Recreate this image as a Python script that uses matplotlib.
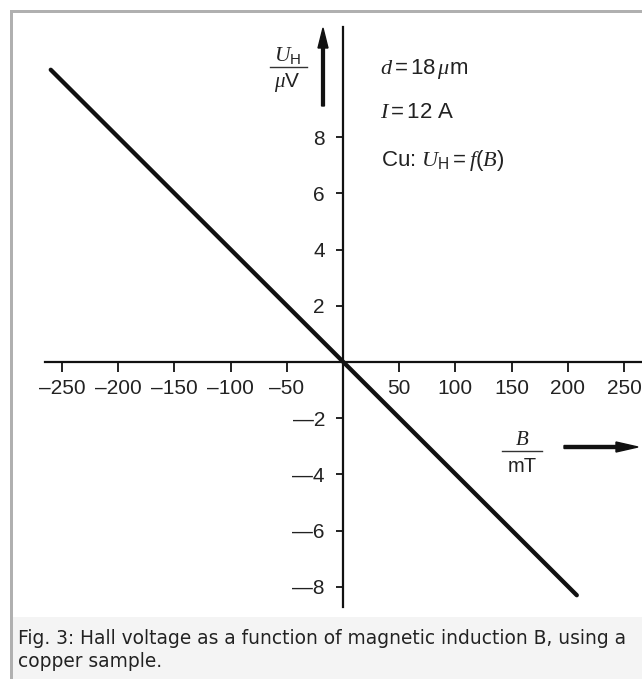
import matplotlib
matplotlib.use("Agg")
import matplotlib.pyplot as plt
from matplotlib.patches import Rectangle, FancyArrow
from matplotlib.lines import Line2D

# ---- data ----
B_mT = [-260, 208]                 # magnetic induction (mT), line end points
U_uV = [10.4, -8.3]                # Hall voltage (µV)
x_ticks = [-250, -200, -150, -100, -50, 50, 100, 150, 200, 250]
x_ticklabels = ["\u2013250", "\u2013200", "\u2013150", "\u2013100", "\u201350",
                "50", "100", "150", "200", "250"]
y_ticks = [-8, -6, -4, -2, 2, 4, 6, 8]
y_ticklabels = ["\u20148", "\u20146", "\u20144", "\u20142", "2", "4", "6", "8"]
caption = ["Fig. 3: Hall voltage as a function of magnetic induction B, using a",
           "copper sample."]

W, H = 642, 679
plt.rcParams['mathtext.fontset'] = 'custom'
plt.rcParams['mathtext.rm'] = 'Liberation Sans'
plt.rcParams['mathtext.it'] = 'Liberation Serif:italic'
plt.rcParams['mathtext.cal'] = 'Liberation Sans'

sans = ['Liberation Sans', 'DejaVu Sans']

fig = plt.figure(figsize=(W / 100, H / 100), dpi=100)
fig.patch.set_facecolor('white')

def fx(px):
    return px / W

def fy(py):
    return 1 - py / H

# caption background and frame border
fig.patches.append(Rectangle((fx(13), fy(H)), fx(W - 13), (H - 617) / H,
                             transform=fig.transFigure, facecolor='#f4f4f4',
                             edgecolor='none', zorder=0))
fig.patches.append(Rectangle((fx(10), fy(H)), fx(3), (H - 10) / H,
                             transform=fig.transFigure, facecolor='#b0b0b0',
                             edgecolor='none', zorder=1))
fig.patches.append(Rectangle((fx(10), fy(13)), fx(W - 10), 3 / H,
                             transform=fig.transFigure, facecolor='#b0b0b0',
                             edgecolor='none', zorder=1))

# ---- data axes ----
x0, x1 = 45, 642
y0, y1 = 27, 607
ox, oy = 343, 362
sx = 56.2 / 50      # px per mT
sy = 56.2 / 2       # px per µV
ax = fig.add_axes([fx(x0), fy(y1), (x1 - x0) / W, (y1 - y0) / H])
ax.set_xlim((x0 - ox) / sx, (x1 - ox) / sx)
ax.set_ylim((oy - y1) / sy, (oy - y0) / sy)
ax.patch.set_alpha(0)
for s in ['top', 'right']:
    ax.spines[s].set_visible(False)
ax.spines['left'].set_position(('data', 0))
ax.spines['bottom'].set_position(('data', 0))
for s in ['left', 'bottom']:
    ax.spines[s].set_linewidth(1.6)
    ax.spines[s].set_color('#111111')

ax.plot(B_mT, U_uV, color='#111111', lw=3.1, solid_capstyle='round', zorder=5)

ax.set_xticks(x_ticks)
ax.set_xticklabels(x_ticklabels, fontfamily=sans, fontsize=15, color='#222222')
ax.set_yticks(y_ticks)
ax.set_yticklabels(y_ticklabels, fontfamily=sans, fontsize=15, color='#222222')
ax.tick_params(axis='x', direction='out', length=7, width=1.4, pad=5, colors='#222222')
ax.tick_params(axis='y', direction='out', length=5, width=1.4, pad=8, colors='#222222')

# ---- axis labels as fractions with arrows ----
fig.text(fx(288), fy(61), r'$U_{\mathrm{H}}$', ha='center', va='baseline', fontsize=15.5, color='#222222')
fig.add_artist(Line2D([fx(270), fx(307)], [fy(67), fy(67)], transform=fig.transFigure,
                      color='#333333', lw=1.0))
fig.text(fx(287), fy(87), r'$\mu$V', ha='center', va='baseline', fontsize=15,
         fontfamily=sans, color='#222222')
fig.add_artist(FancyArrow(fx(323), fy(106), 0, (106 - 28) / H, width=3 / H,
                          head_width=10 / W, head_length=20 / H,
                          length_includes_head=True, transform=fig.transFigure,
                          color='#111111'))

fig.text(fx(522), fy(445), r'$B$', ha='center', va='baseline', fontsize=15, color='#222222')
fig.add_artist(Line2D([fx(502), fx(542)], [fy(451), fy(451)], transform=fig.transFigure,
                      color='#333333', lw=1.0))
fig.text(fx(522), fy(472), 'mT', ha='center', va='baseline', fontsize=14.5,
         fontfamily=sans, color='#222222')
fig.add_artist(FancyArrow(fx(564), fy(447), (638 - 564) / W, 0, width=3 / H,
                          head_width=10 / H, head_length=22 / W,
                          length_includes_head=True, transform=fig.transFigure,
                          color='#111111'))

# ---- annotations ----
fig.text(fx(380), fy(74), r'$d = 18\,\mu\mathrm{m}$', ha='left', va='baseline',
         fontsize=16, color='#222222')
fig.text(fx(380), fy(118), r'$I = 12\ \mathrm{A}$', ha='left', va='baseline',
         fontsize=16, color='#222222')
fig.text(fx(381), fy(166), r'Cu: $U_{\mathrm{H}} = f(B)$', ha='left', va='baseline',
         fontsize=16, fontfamily=sans, color='#222222')

# ---- caption ----
t1 = fig.text(fx(18), fy(644), caption[0], ha='left', va='baseline', fontsize=11.8,
              fontfamily='DejaVu Sans', color='#222222')
t2 = fig.text(fx(18), fy(667), caption[1], ha='left', va='baseline', fontsize=11.8,
              fontfamily='DejaVu Sans', color='#222222')
fig.canvas.draw()
wpx = t1.get_window_extent().width
fs = 11.8 * 608 / wpx
t1.set_fontsize(fs)
t2.set_fontsize(fs)

fig.savefig('out.png', dpi=100, facecolor='white')
